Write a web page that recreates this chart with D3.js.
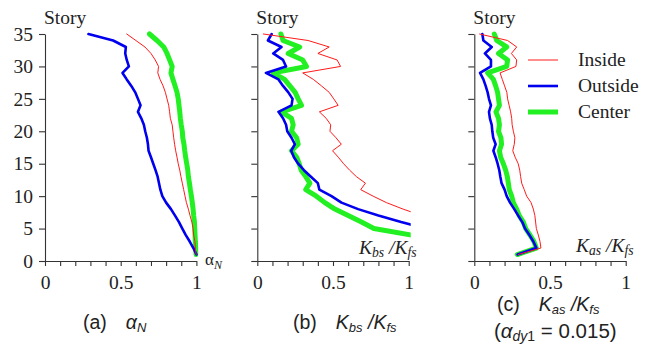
<!DOCTYPE html>
<html>
<head>
<meta charset="utf-8">
<script src="https://cdn.jsdelivr.net/npm/d3@7"></script>
<style>
  body { margin: 0; background: #fff; }
  svg text { fill: #222; }
</style>
</head>
<body>
<svg id="chart" width="657" height="344"></svg>
<script>
// Story numbers (bottom to top)
const stories = d3.range(1, 36);
const storyTicks = [0, 5, 10, 15, 20, 25, 30, 35];
const ratioTicks = d3.range(0, 11).map(i => i / 10);
const ratioTickLabels = { 0: "0", 0.5: "0.5", 1: "1" };

// (a) alpha_N per story
const alphaInside  = [0.998, 0.993, 0.99, 0.982, 0.978, 0.97, 0.958, 0.947, 0.934, 0.925, 0.916, 0.907, 0.898, 0.89, 0.88, 0.872, 0.863, 0.856, 0.85, 0.845, 0.84, 0.828, 0.823, 0.817, 0.806, 0.795, 0.78, 0.76, 0.745, 0.75, 0.728, 0.70, 0.66, 0.60, 0.54];
const alphaOutside = [1.0, 0.98, 0.956, 0.93, 0.907, 0.885, 0.859, 0.832, 0.80, 0.775, 0.762, 0.753, 0.744, 0.73, 0.715, 0.70, 0.684, 0.68, 0.673, 0.662, 0.653, 0.636, 0.614, 0.631, 0.614, 0.596, 0.57, 0.54, 0.512, 0.554, 0.54, 0.53, 0.534, 0.45, 0.287];
const alphaCenter  = [0.998, 0.996, 0.993, 0.991, 0.989, 0.987, 0.982, 0.978, 0.973, 0.967, 0.96, 0.954, 0.947, 0.943, 0.936, 0.929, 0.923, 0.918, 0.91, 0.907, 0.90, 0.894, 0.89, 0.885, 0.88, 0.872, 0.859, 0.845, 0.832, 0.84, 0.823, 0.806, 0.784, 0.74, 0.69];

// (b) Kbs/Kfs per story (null: off the scale)
const kbsInside  = [null, null, null, null, null, null, 1.086, 0.963, 0.853, 0.765, 0.683, 0.714, 0.655, 0.61, 0.57, 0.535, 0.497, 0.555, 0.52, 0.48, 0.485, 0.455, 0.41, 0.534, 0.505, 0.475, 0.424, 0.37, 0.30, 0.55, 0.527, 0.40, 0.475, 0.335, 0.04];
const kbsOutside = [null, null, null, null, 1.12, 0.95, 0.80, 0.666, 0.556, 0.49, 0.41, 0.40, 0.354, 0.308, 0.27, 0.242, 0.224, 0.248, 0.226, 0.198, 0.19, 0.17, 0.14, 0.226, 0.233, 0.205, 0.17, 0.14, 0.057, 0.19, 0.17, 0.105, 0.16, 0.07, 0.095];
const kbsCenter  = [null, null, null, 1.02, 0.77, 0.688, 0.60, 0.512, 0.446, 0.39, 0.32, 0.347, 0.32, 0.29, 0.277, 0.26, 0.226, 0.27, 0.26, 0.226, 0.237, 0.226, 0.16, 0.292, 0.27, 0.25, 0.215, 0.18, 0.105, 0.325, 0.30, 0.204, 0.28, 0.17, 0.156];

// (c) Kas/Kfs per story
const kasInside  = [0.29, 0.44, 0.434, 0.423, 0.41, 0.405, 0.40, 0.39, 0.375, 0.346, 0.33, 0.313, 0.306, 0.30, 0.29, 0.27, 0.254, 0.264, 0.268, 0.258, 0.25, 0.247, 0.24, 0.23, 0.22, 0.215, 0.20, 0.185, 0.17, 0.275, 0.28, 0.245, 0.28, 0.22, 0.035];
const kasOutside = [0.286, 0.41, 0.39, 0.364, 0.335, 0.317, 0.29, 0.264, 0.236, 0.214, 0.20, 0.18, 0.172, 0.165, 0.154, 0.141, 0.126, 0.141, 0.125, 0.119, 0.115, 0.103, 0.097, 0.11, 0.097, 0.088, 0.075, 0.06, 0.038, 0.11, 0.11, 0.07, 0.115, 0.06, 0.053];
const kasCenter  = [0.284, 0.41, 0.394, 0.368, 0.34, 0.324, 0.297, 0.28, 0.258, 0.247, 0.231, 0.225, 0.218, 0.207, 0.192, 0.174, 0.166, 0.18, 0.176, 0.16, 0.166, 0.16, 0.143, 0.166, 0.16, 0.154, 0.141, 0.126, 0.088, 0.214, 0.22, 0.16, 0.214, 0.148, 0.132];

const seriesNames = ["Inside", "Outside", "Center"];
const seriesStyle = {
  Inside:  { color: "#ff1a1a", width: 1 },
  Outside: { color: "#0000ee", width: 2.6 },
  Center:  { color: "#22f022", width: 5 }
};

const panels = [
  { id: "a", left: 45,    data: { Inside: alphaInside, Outside: alphaOutside, Center: alphaCenter }, yLabels: true },
  { id: "b", left: 257.3, data: { Inside: kbsInside,   Outside: kbsOutside,   Center: kbsCenter },   yLabels: false },
  { id: "c", left: 474.3, data: { Inside: kasInside,   Outside: kasOutside,   Center: kasCenter },   yLabels: false }
];

const svg = d3.select("#chart");
const serif = "'Liberation Serif', 'Times New Roman', serif";
const sans = "'Liberation Sans', Arial, sans-serif";
const plotW = 151.4, plotTop = 34, plotBottom = 261;

const y = d3.scaleLinear().domain([0, 35]).range([plotBottom, plotTop]);

panels.forEach(p => {
  const x = d3.scaleLinear().domain([0, 1]).range([p.left, p.left + plotW]);
  const g = svg.append("g");

  // clip so values past 1 stop at the right edge
  svg.append("clipPath").attr("id", "clip-" + p.id)
    .append("rect").attr("x", p.left - 4).attr("y", plotTop - 6)
    .attr("width", plotW + 6).attr("height", plotBottom - plotTop + 12);

  const yAxis = d3.axisLeft(y).tickValues(storyTicks).tickSize(6).tickSizeOuter(0)
    .tickPadding(6).tickFormat(p.yLabels ? d3.format("d") : () => "");
  const ya = g.append("g").attr("transform", `translate(${p.left},0)`).call(yAxis);

  const xAxis = d3.axisBottom(x).tickValues(ratioTicks).tickSize(5).tickSizeOuter(0)
    .tickPadding(9).tickFormat(v => ratioTickLabels[v] !== undefined ? ratioTickLabels[v] : "");
  const xa = g.append("g").attr("transform", `translate(0,${plotBottom})`).call(xAxis);

  [ya, xa].forEach(a => {
    a.selectAll("path, line").attr("stroke", "#333").attr("stroke-width", 1.1);
    a.selectAll("text").attr("font-family", serif).attr("font-size", 19.5).attr("fill", "#222");
  });

  g.append("text").attr("x", p.left - 1).attr("y", 24)
    .attr("font-family", serif).attr("font-size", 19.5).text("Story");

  const lines = g.append("g").attr("clip-path", `url(#clip-${p.id})`);
  // drawing order: Center beneath, Inside on top
  ["Center", "Outside", "Inside"].forEach(name => {
    const vals = p.data[name];
    const line = d3.line()
      .defined((d, i) => vals[i] !== null)
      .x((d, i) => x(vals[i]))
      .y(d => y(d));
    lines.append("path").datum(stories)
      .attr("d", line)
      .attr("fill", "none")
      .attr("stroke", seriesStyle[name].color)
      .attr("stroke-width", seriesStyle[name].width)
      .attr("stroke-linejoin", "round")
      .attr("stroke-linecap", "round");
  });
});

// axis quantity labels inside panels
const aLab = svg.append("text").attr("x", 205).attr("y", 265).attr("font-family", serif).attr("font-size", 17);
aLab.append("tspan").text("\u03b1");
aLab.append("tspan").attr("dy", 4).attr("font-size", 12).attr("font-style", "italic").text("N");

function ratioLabel(xPos, yPos, sub1, size, family) {
  const t = svg.append("text").attr("x", xPos).attr("y", yPos)
    .attr("font-family", family).attr("font-size", size).attr("font-style", "italic");
  t.append("tspan").text("K");
  t.append("tspan").attr("dy", 3).attr("font-size", size * 0.7).text(sub1);
  t.append("tspan").attr("dy", -3).text(" /K");
  t.append("tspan").attr("dy", 3).attr("font-size", size * 0.7).text("fs");
  return t;
}
ratioLabel(359, 254, "bs", 19.5, serif);
ratioLabel(576, 252, "as", 19.5, serif);

// legend
const legend = svg.append("g");
seriesNames.forEach((name, i) => {
  const ly = 60 + i * 26;
  legend.append("line").attr("x1", 528).attr("x2", 558).attr("y1", ly).attr("y2", ly)
    .attr("stroke", seriesStyle[name].color).attr("stroke-width", seriesStyle[name].width);
  legend.append("text").attr("x", 578).attr("y", ly + 6)
    .attr("font-family", serif).attr("font-size", 19.5).text(name);
});

// captions
function caption(xPos, yPos, tag, size) {
  const t = svg.append("text").attr("x", xPos).attr("y", yPos)
    .attr("font-family", sans).attr("font-size", size).attr("fill", "#222");
  t.append("tspan").text(tag);
  return t;
}
const ca = caption(83, 329, "(a)", 19.5);
ca.append("tspan").attr("dx", 19).attr("font-style", "italic").text("\u03b1");
ca.append("tspan").attr("dy", 3).attr("font-size", 13).attr("font-style", "italic").text("N");

const cb = caption(293, 329, "(b)", 19.5);
cb.append("tspan").attr("dx", 19).attr("font-style", "italic").text("K");
cb.append("tspan").attr("dy", 3).attr("font-size", 13).attr("font-style", "italic").text("bs");
cb.append("tspan").attr("dy", -3).attr("font-style", "italic").text(" /K");
cb.append("tspan").attr("dy", 3).attr("font-size", 13).attr("font-style", "italic").text("fs");

const cc = caption(497, 311, "(c)", 19.5);
cc.append("tspan").attr("dx", 19).attr("font-style", "italic").text("K");
cc.append("tspan").attr("dy", 3).attr("font-size", 13).attr("font-style", "italic").text("as");
cc.append("tspan").attr("dy", -3).attr("font-style", "italic").text(" /K");
cc.append("tspan").attr("dy", 3).attr("font-size", 13).attr("font-style", "italic").text("fs");

const cd = caption(494, 338, "(", 20.5);
cd.append("tspan").attr("font-style", "italic").text("\u03b1");
cd.append("tspan").attr("dy", 3).attr("font-size", 14).attr("font-style", "italic").text("dy");
cd.append("tspan").attr("font-size", 14).text("1");
cd.append("tspan").attr("dy", -3).text(" = 0.015)");
</script>
</body>
</html>
